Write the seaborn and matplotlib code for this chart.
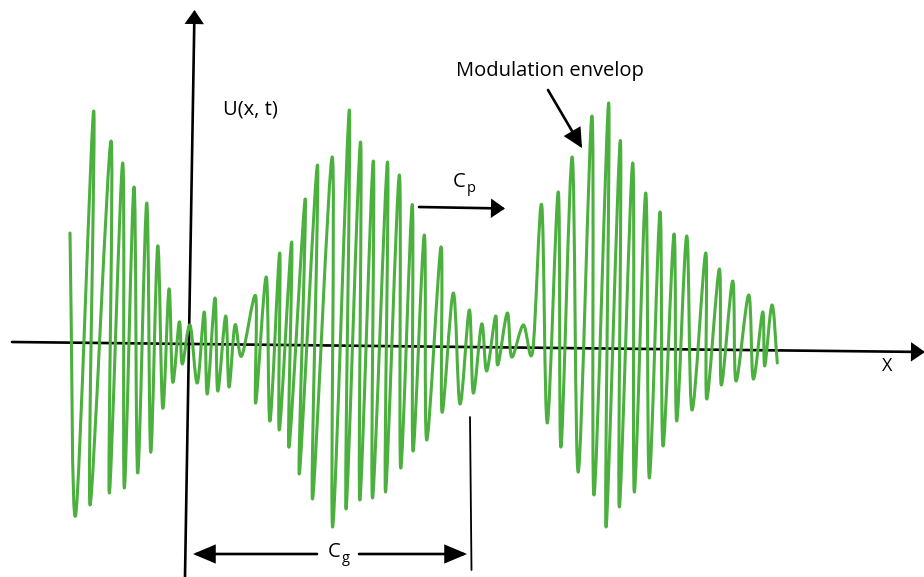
import matplotlib
matplotlib.use("Agg")
import matplotlib.pyplot as plt
import seaborn as sns
import numpy as np
from matplotlib.patches import FancyArrowPatch, PathPatch
from matplotlib.path import Path

# ---- data: extrema of the modulated wave (x position, pixel height of each turning point) ----
wave_x = [70, 75.7, 93.7, 90, 111, 109.3, 122.7, 124.3, 134, 137.7, 146.7, 150.7,
          157.7, 162.7, 169, 172.7, 179.3, 182.3, 190, 197.3, 204.3, 207.3, 215,
          217.7, 225.7, 229, 235, 241.7,
          255.7, 255.7, 266.3, 270, 279.7, 279.3, 291.7, 289, 305.3, 299.3, 317.5,
          312.5, 332.3, 332.7, 349.3, 346, 360.5, 359.8, 373.3, 372.5, 387.5, 385.5,
          399.3, 400.7, 412.2, 413, 424.3, 426.7, 441, 442, 453.3, 460,
          469.3, 473.3, 481.7, 486.7, 495.7, 497.7, 507.3, 511.7, 523.3, 532.7,
          541.7, 547.3, 558.3, 561, 572.2, 578.3, 592, 594, 608.7, 606, 620.3,
          619.3, 632.7, 634.3, 645.7, 649.3, 660, 663, 674, 676.7, 686.7, 692,
          705.7, 706.7, 719.3, 721.3, 732.7, 736, 748.7, 753.3, 762.7, 764.7, 772,
          777.3]
wave_y_px = [233, 515, 111, 505, 141, 493, 163, 488, 187, 473, 203, 452,
             246, 408, 289, 382, 322, 364, 325, 383, 312, 394, 298,
             391, 316, 387, 325, 356,
             296, 403, 277, 421, 253, 430, 242, 447, 199, 474, 165,
             499, 157, 527, 110, 509, 142, 500, 161, 498, 162, 492,
             175, 468, 204.5, 451, 235, 440, 247, 412, 293, 404,
             310, 393, 324, 371, 316, 365, 313, 357, 325, 351,
             205, 423, 192, 447, 157, 472, 116, 495, 103, 527, 140.5,
             507, 163, 492, 193, 478, 212, 446, 234, 421, 236, 410,
             253, 399, 269, 385, 281, 381, 295, 379, 312, 366, 305,
             363]
BASE = 343
wave_u = [BASE - v for v in wave_y_px]

label_u = "U(x, t)"
label_x = "X"
label_env = "Modulation envelop"

sns.set_style("white")
plt.rcParams["font.family"] = ["Open Sans", "DejaVu Sans"]
plt.rcParams["text.color"] = "black"

fig = plt.figure(figsize=(9.24, 5.77), dpi=100)
ax = fig.add_axes([0, 0, 1, 1])
ax.set_xlim(0, 924)
ax.set_ylim(BASE - 577, BASE)
ax.axis("off")

def Y(py):
    return BASE - py

def arrow(p0, p1, lw=1.9, hl=7.5, hw=5.2):
    a = FancyArrowPatch((p0[0], Y(p0[1])), (p1[0], Y(p1[1])),
                        arrowstyle=f"-|>,head_length={hl},head_width={hw}",
                        mutation_scale=1, lw=lw, color="black",
                        shrinkA=0, shrinkB=0, zorder=2, joinstyle="miter")
    ax.add_patch(a)

arrow((12, 342), (925, 352))           # x axis
arrow((185, 577), (194.5, 10))         # U axis
arrow((419, 207), (505, 208.5))        # Cp
arrow((548, 90), (582, 148), hl=11, hw=5.5)  # envelope pointer
arrow((317, 554), (193, 554), hl=13, hw=5.5)  # Cg left
arrow((359, 554), (467, 554), hl=13, hw=5.5)  # Cg right
ax.plot([470, 471.5], [Y(417), Y(570)], color="black", lw=1.3, zorder=2)

# smoothed line through the turning points (like a "smoothed" scatter line)
P = np.column_stack([wave_x, wave_u]).astype(float)
n = len(P)
T = np.zeros_like(P)
T[1:-1] = (P[2:] - P[:-2]) / 2.0
T[0] = P[1] - P[0]
T[-1] = P[-1] - P[-2]
verts = [tuple(P[0])]
codes = [Path.MOVETO]
for i in range(n - 1):
    verts += [tuple(P[i] + T[i] / 3.0), tuple(P[i + 1] - T[i + 1] / 3.0), tuple(P[i + 1])]
    codes += [Path.CURVE4] * 3
ax.add_patch(PathPatch(Path(verts, codes), fill=False, edgecolor="#4cb03f",
                       lw=2.2, zorder=3, capstyle="round", joinstyle="round"))

fs = 14.5
ax.text(223, Y(110), label_u, fontsize=fs, ha="left", va="center", color="black")
ax.text(550, Y(71), label_env, fontsize=fs, ha="center", va="center", color="black")
ax.text(453, Y(182), "C", fontsize=fs, ha="left", va="center", color="black")
ax.text(466.5, Y(189), "p", fontsize=10.5, ha="left", va="center", color="black")
ax.text(328, Y(552), "C", fontsize=fs, ha="left", va="center", color="black")
ax.text(341.5, Y(558), "g", fontsize=10.5, ha="left", va="center", color="black")
ax.text(887, Y(366), label_x, fontsize=13, ha="center", va="center", color="black")

fig.savefig("out.png", dpi=100)
